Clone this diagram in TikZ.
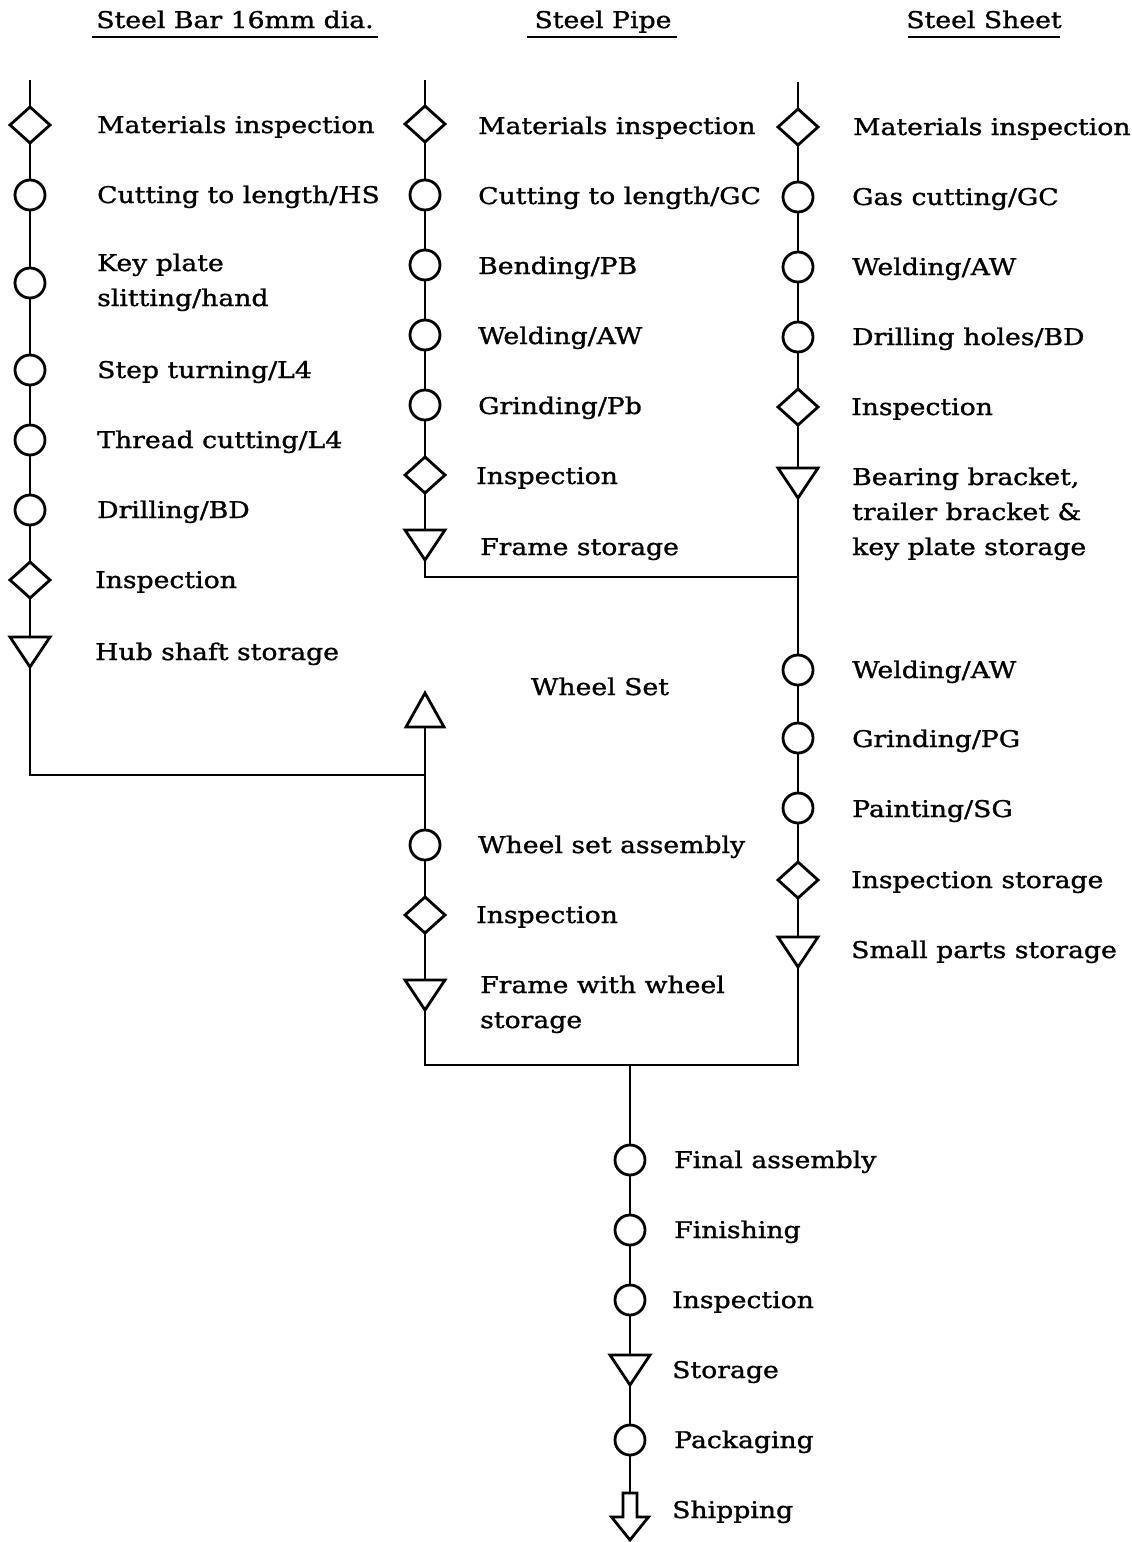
\documentclass[tikz,border=0pt]{standalone}
\usepackage{fontspec}
\setmainfont[FakeStretch=1.16,FakeBold=1.2]{DejaVu Serif}
\usetikzlibrary{shapes.geometric}

% storage (down) and supply (up) triangles drawn on a plain rectangle node
\newcommand\downtri[1]{\draw[flow, line join=miter] (#1.north west) -- (#1.north east) -- (#1.south) -- cycle;}
\newcommand\uptri[1]{\draw[flow, line join=miter] (#1.south west) -- (#1.south east) -- (#1.north) -- cycle;}

\begin{document}
\begin{tikzpicture}[x=1pt,y=-1pt,
  flow/.style={line width=2.8pt},
  sym/.style={draw, line width=2.8pt, inner sep=0pt, outer sep=0pt},
  op/.style={sym, circle, minimum size=30pt},
  insp/.style={sym, diamond, minimum width=40pt, minimum height=36pt},
  store/.style={inner sep=0pt, outer sep=0pt, minimum width=40pt, minimum height=30pt},
  rise/.style={inner sep=0pt, outer sep=0pt, minimum width=38pt, minimum height=34pt},
  ship/.style={inner sep=0pt, outer sep=0pt, minimum width=37pt, minimum height=47pt},
  lbl/.style={anchor=base west, inner sep=0pt, font=\fontsize{23}{35}\selectfont, align=left},
  head/.style={anchor=base, inner sep=0pt, font=\fontsize{23}{35}\selectfont},
]
\fill[white] (0,0) rectangle (1132,1542);
\useasboundingbox (0,0) rectangle (1132,1542);

% ---------- column headings ----------
\node[head] (h1) at (235,28) {Steel Bar 16mm dia.};
\node[head] (h2) at (603,28) {Steel Pipe};
\node[head] (h3) at (984,28) {Steel Sheet};
\draw[line width=1.8pt] (92,37) -- (378,37);
\draw[line width=1.8pt] (527,37) -- (677,37);
\draw[line width=1.8pt] (908,37) -- (1060,37);

% ---------- steel bar line ----------
\coordinate (a0) at (30,80);
\node[insp]  (a1) at (30,125) {};
\node[op]    (a2) at (30,195) {};
\node[op]    (a3) at (30,283) {};
\node[op]    (a4) at (30,370) {};
\node[op]    (a5) at (30,440) {};
\node[op]    (a6) at (30,510) {};
\node[insp]  (a7) at (30,580) {};
\node[store] (a8) at (30,652) {};
\downtri{a8}

\node[lbl] (ta1) at (97,133) {Materials inspection};
\node[lbl] (ta2) at (97,203) {Cutting to length/HS};
\node[lbl] (ta3) at (97,306) {Key plate\\slitting/hand};
\node[lbl] (ta4) at (97,378) {Step turning/L4};
\node[lbl] (ta5) at (97,448) {Thread cutting/L4};
\node[lbl] (ta6) at (97,518) {Drilling/BD};
\node[lbl] (ta7) at (95,588) {Inspection};
\node[lbl] (ta8) at (95,660) {Hub shaft storage};

% ---------- steel pipe line ----------
\coordinate (b0) at (425,80);
\node[insp]  (b1) at (425,124) {};
\node[op]    (b2) at (425,195) {};
\node[op]    (b3) at (425,265) {};
\node[op]    (b4) at (425,335) {};
\node[op]    (b5) at (425,405) {};
\node[insp]  (b6) at (425,475) {};
\node[store] (b7) at (425,545) {};
\downtri{b7}

\node[lbl] (tb1) at (478,134) {Materials inspection};
\node[lbl] (tb2) at (478,204) {Cutting to length/GC};
\node[lbl] (tb3) at (478,274) {Bending/PB};
\node[lbl] (tb4) at (478,344) {Welding/AW};
\node[lbl] (tb5) at (478,414) {Grinding/Pb};
\node[lbl] (tb6) at (476,484) {Inspection};
\node[lbl] (tb7) at (480,555) {Frame storage};

% ---------- steel sheet line ----------
\coordinate (c0) at (798,82);
\node[insp]  (c1) at (798,127) {};
\node[op]    (c2) at (798,197) {};
\node[op]    (c3) at (798,267) {};
\node[op]    (c4) at (798,337) {};
\node[insp]  (c5) at (798,407) {};
\node[store] (c6) at (798,483) {};
\downtri{c6}
\coordinate (j2) at (798,577);
\node[op]    (c7) at (798,670) {};
\node[op]    (c8) at (798,738) {};
\node[op]    (c9) at (798,808) {};
\node[insp]  (c10) at (798,880) {};
\node[store] (c11) at (798,952) {};
\downtri{c11}

\node[lbl] (tc1) at (853,135) {Materials inspection};
\node[lbl] (tc2) at (852,205) {Gas cutting/GC};
\node[lbl] (tc3) at (852,275) {Welding/AW};
\node[lbl] (tc4) at (852,345) {Drilling holes/BD};
\node[lbl] (tc5) at (851,415) {Inspection};
\node[lbl] (tc6) at (852,555) {Bearing bracket,\\trailer bracket \&\\key plate storage};
\node[lbl] (tc7) at (852,678) {Welding/AW};
\node[lbl] (tc8) at (852,747) {Grinding/PG};
\node[lbl] (tc9) at (852,817) {Painting/SG};
\node[lbl] (tc10) at (851,888) {Inspection storage};
\node[lbl] (tc11) at (851,958) {Small parts storage};

% ---------- wheel set line ----------
\node[rise]  (w0) at (425,710) {};
\uptri{w0}
\node[head] (tw0) at (600,695) {Wheel Set};
\coordinate (j1) at (425,775);
\node[op]    (w1) at (425,845) {};
\node[insp]  (w2) at (425,915) {};
\node[store] (w3) at (425,995) {};
\downtri{w3}

\node[lbl] (tw1) at (478,853) {Wheel set assembly};
\node[lbl] (tw2) at (476,923) {Inspection};
\node[lbl] (tw3) at (480,1028) {Frame with wheel\\storage};

% ---------- final line ----------
\coordinate (j3) at (630,1065);
\node[op]    (f1) at (630,1160) {};
\node[op]    (f2) at (630,1230) {};
\node[op]    (f3) at (630,1300) {};
\node[store] (f4) at (630,1370) {};
\downtri{f4}
\node[op]    (f5) at (630,1440) {};
\node[ship]  (f6) at (630,1516.5) {};
\draw[flow, line join=miter] ([xshift=-7pt]f6.north) -- ++(0,24) -- ++(-11.5,0)
  -- (f6.south) -- ++(18.5,-23) -- ++(-11.5,0) -- ++(0,-24) -- cycle;

\node[lbl] (tf1) at (674,1168) {Final assembly};
\node[lbl] (tf2) at (674,1238) {Finishing};
\node[lbl] (tf3) at (672,1308) {Inspection};
\node[lbl] (tf4) at (672,1378) {Storage};
\node[lbl] (tf5) at (674,1448) {Packaging};
\node[lbl] (tf6) at (672,1518) {Shipping};

% ---------- connectors ----------
\draw[flow] (a0) -- (a1) -- (a2) -- (a3) -- (a4) -- (a5) -- (a6) -- (a7) -- (a8.north);
\draw[flow] (a8.south) |- (j1);
\draw[flow] (b0) -- (b1) -- (b2) -- (b3) -- (b4) -- (b5) -- (b6) -- (b7.north);
\draw[flow] (b7.south) |- (j2);
\draw[flow] (c0) -- (c1) -- (c2) -- (c3) -- (c4) -- (c5) -- (c6.north);
\draw[flow] (c6.south) -- (c7) -- (c8) -- (c9) -- (c10) -- (c11.north);
\draw[flow] (w0.south) -- (w1) -- (w2) -- (w3.north);
\draw[flow] (w3.south) |- (j3) -| (c11.south);
\draw[flow] (j3) -- (f1) -- (f2) -- (f3) -- (f4.north);
\draw[flow] (f4.south) -- (f5) -- (f6.north);
\end{tikzpicture}
\end{document}
